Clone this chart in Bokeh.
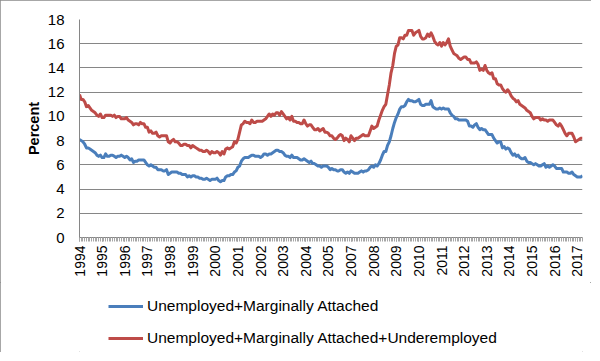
import math
from bokeh.plotting import figure
from bokeh.layouts import column
from bokeh.models import Range1d, FixedTicker, Legend, LegendItem
from bokeh.embed import file_html
from bokeh.resources import INLINE

# Monthly values, Jan 1994 .. Feb 2018 (one row per year)
u5 = [
    8.1, 8.0, 7.9, 7.7, 7.4, 7.4, 7.3, 7.2, 7.1, 7.0, 6.8, 6.7,   # 1994
    6.8, 6.6, 6.6, 6.9, 6.7, 6.7, 6.8, 6.8, 6.7, 6.6, 6.7, 6.7,   # 1995
    6.8, 6.7, 6.6, 6.7, 6.6, 6.4, 6.5, 6.2, 6.3, 6.3, 6.4, 6.4,   # 1996
    6.4, 6.4, 6.2, 6.0, 5.9, 6.0, 5.9, 5.8, 5.8, 5.6, 5.6, 5.6,   # 1997
    5.5, 5.5, 5.6, 5.2, 5.3, 5.4, 5.4, 5.4, 5.4, 5.3, 5.3, 5.2,   # 1998
    5.2, 5.2, 5.0, 5.1, 5.0, 5.1, 5.1, 5.0, 5.0, 4.9, 4.9, 4.8,   # 1999
    4.8, 4.9, 4.8, 4.7, 4.8, 4.8, 4.8, 4.9, 4.7, 4.6, 4.7, 4.7,   # 2000
    5.0, 5.1, 5.1, 5.2, 5.2, 5.4, 5.5, 5.8, 5.9, 6.3, 6.5, 6.6,   # 2001
    6.6, 6.6, 6.7, 6.8, 6.8, 6.7, 6.7, 6.7, 6.6, 6.7, 6.9, 6.9,   # 2002
    6.8, 6.9, 6.9, 7.0, 7.1, 7.2, 7.2, 7.1, 7.1, 7.0, 6.8, 6.7,   # 2003
    6.7, 6.6, 6.8, 6.6, 6.6, 6.6, 6.5, 6.4, 6.4, 6.5, 6.4, 6.3,   # 2004
    6.2, 6.3, 6.1, 6.1, 6.0, 5.9, 5.9, 5.8, 5.9, 5.9, 5.9, 5.8,   # 2005
    5.6, 5.7, 5.6, 5.6, 5.5, 5.5, 5.6, 5.6, 5.4, 5.3, 5.4, 5.3,   # 2006
    5.5, 5.4, 5.3, 5.3, 5.3, 5.4, 5.5, 5.4, 5.5, 5.5, 5.6, 5.8,   # 2007
    5.9, 5.8, 6.0, 5.9, 6.1, 6.4, 6.8, 7.1, 7.1, 7.6, 7.9, 8.4,   # 2008
    9.0, 9.5, 9.9, 10.2, 10.6, 10.8, 10.8, 10.9, 11.2, 11.4, 11.3, 11.3,  # 2009
    11.2, 11.2, 11.3, 11.4, 11.0, 10.9, 10.9, 11.0, 11.0, 11.0, 11.3, 10.8,  # 2010
    10.7, 10.6, 10.6, 10.7, 10.6, 10.7, 10.6, 10.6, 10.6, 10.3, 10.1, 10.0,  # 2011
    9.8, 9.8, 9.7, 9.7, 9.7, 9.7, 9.7, 9.6, 9.2, 9.2, 9.1, 9.3,   # 2012
    9.4, 9.1, 8.9, 9.0, 8.9, 8.9, 8.7, 8.5, 8.5, 8.5, 8.2, 8.0,   # 2013
    7.8, 7.9, 7.9, 7.4, 7.5, 7.3, 7.4, 7.3, 7.0, 6.8, 6.9, 6.7,   # 2014
    6.8, 6.6, 6.5, 6.5, 6.6, 6.3, 6.2, 6.2, 6.1, 6.0, 6.1, 6.0,   # 2015
    5.9, 5.9, 6.0, 6.1, 5.8, 5.9, 5.8, 5.9, 6.0, 5.9, 5.7, 5.7,   # 2016
    5.7, 5.7, 5.4, 5.4, 5.4, 5.3, 5.3, 5.4, 5.2, 5.1, 5.0, 5.0,   # 2017
    5.0, 5.1,                                                     # 2018
]

u6 = [
    11.8, 11.4, 11.4, 11.2, 10.8, 10.9, 10.7, 10.5, 10.4, 10.3, 10.1, 10.0,  # 1994
    10.2, 9.9, 9.9, 10.1, 10.1, 10.1, 10.1, 10.0, 10.1, 9.9, 10.0, 10.0,    # 1995
    9.8, 9.8, 9.8, 9.9, 9.7, 9.6, 9.5, 9.3, 9.4, 9.4, 9.3, 9.5,             # 1996
    9.4, 9.4, 9.1, 9.1, 8.7, 8.8, 8.6, 8.6, 8.7, 8.4, 8.3, 8.4,             # 1997
    8.4, 8.4, 8.4, 7.9, 7.8, 8.0, 8.1, 7.9, 7.9, 7.8, 7.6, 7.6,             # 1998
    7.7, 7.7, 7.6, 7.6, 7.4, 7.6, 7.5, 7.4, 7.3, 7.2, 7.2, 7.1,             # 1999
    7.1, 7.2, 7.1, 6.9, 7.1, 7.0, 7.0, 7.1, 7.0, 6.8, 7.1, 6.9,             # 2000
    7.3, 7.4, 7.3, 7.4, 7.5, 7.9, 7.8, 8.1, 8.7, 9.3, 9.4, 9.6,             # 2001
    9.5, 9.5, 9.4, 9.7, 9.5, 9.5, 9.6, 9.6, 9.6, 9.6, 9.7, 9.8,             # 2002
    10.0, 10.2, 10.0, 10.2, 10.1, 10.3, 10.3, 10.1, 10.4, 10.2, 10.0, 9.8,  # 2003
    9.9, 9.7, 10.0, 9.6, 9.6, 9.5, 9.5, 9.4, 9.4, 9.7, 9.4, 9.2,            # 2004
    9.3, 9.3, 9.1, 8.9, 8.9, 9.0, 8.8, 8.9, 9.0, 8.7, 8.7, 8.6,             # 2005
    8.4, 8.4, 8.2, 8.1, 8.2, 8.4, 8.5, 8.4, 8.0, 8.2, 8.1, 7.9,             # 2006
    8.4, 8.2, 8.0, 8.2, 8.2, 8.3, 8.4, 8.5, 8.4, 8.4, 8.4, 8.8,             # 2007
    9.2, 9.0, 9.1, 9.2, 9.7, 10.1, 10.5, 10.8, 11.0, 11.8, 12.6, 13.6,      # 2008
    14.2, 15.2, 15.8, 15.9, 16.5, 16.5, 16.4, 16.7, 16.7, 17.1, 17.1, 17.1, # 2009
    16.7, 16.9, 17.0, 17.1, 16.6, 16.4, 16.4, 16.5, 16.8, 16.6, 16.9, 16.6, # 2010
    16.2, 16.0, 15.9, 16.1, 15.8, 16.1, 15.9, 16.1, 16.4, 15.8, 15.5, 15.2, # 2011
    15.1, 15.0, 14.8, 14.7, 14.8, 14.9, 14.9, 14.7, 14.7, 14.4, 14.4, 14.4, # 2012
    14.5, 14.3, 13.8, 13.9, 13.8, 14.2, 13.8, 13.6, 13.5, 13.6, 13.1, 13.1, # 2013
    12.7, 12.6, 12.6, 12.3, 12.1, 12.0, 12.2, 12.0, 11.7, 11.5, 11.4, 11.2, # 2014
    11.3, 11.0, 10.9, 10.8, 10.7, 10.5, 10.4, 10.3, 10.0, 9.8, 9.9, 9.9,    # 2015
    9.9, 9.7, 9.8, 9.7, 9.7, 9.6, 9.7, 9.7, 9.7, 9.5, 9.3, 9.2,             # 2016
    9.4, 9.2, 8.9, 8.6, 8.4, 8.6, 8.6, 8.6, 8.3, 7.9, 8.0, 8.1,             # 2017
    8.2, 8.2,                                                              # 2018
]

# Category-axis labels (one label every 13 categories, as in the source chart)
tick_labels = ["1994", "1995", "1996", "1997", "1998", "1999", "2000", "2001",
               "2002", "2003", "2004", "2005", "2007", "2008", "2009", "2010",
               "2011", "2012", "2013", "2014", "2015", "2016", "2017"]
label_step = 13
y_ticks = [0, 2, 4, 6, 8, 10, 12, 14, 16, 18]

series_names = ["Unemployed+Marginally Attached",
                "Unemployed+Marginally Attached+Underemployed"]
series_colors = ["#4A7EBB", "#BE4B48"]

n = len(u6)
xs = list(range(n))
tick_pos = [i * label_step for i in range(len(tick_labels))]

FONT = "Liberation Sans"
GRID = "#868686"
W = 591

p = figure(width=W, height=282, output_backend="svg", toolbar_location=None,
           x_range=Range1d(0, n - 1), y_range=Range1d(0, 18),
           min_border_left=79, min_border_right=9, min_border_top=19,
           min_border_bottom=45, background_fill_color="white",
           border_fill_color="white")
p.outline_line_color = None

p.line(xs, u5, line_color=series_colors[0], line_width=3, line_join="round")
p.line(xs, u6, line_color=series_colors[1], line_width=3, line_join="round")

# x axis
xa = p.xaxis[0]
xa.ticker = FixedTicker(ticks=tick_pos, minor_ticks=xs)
xa.major_label_overrides = {pos: lab for pos, lab in zip(tick_pos, tick_labels)}
xa.major_label_orientation = math.pi / 2
xa.major_label_text_font = FONT
xa.major_label_text_font_size = "14px"
xa.major_label_text_color = "black"
xa.major_label_standoff = 4
xa.axis_line_color = GRID
xa.major_tick_line_color = GRID
xa.minor_tick_line_color = "#a6a6a6"
xa.major_tick_in = 0
xa.major_tick_out = 4
xa.minor_tick_in = 0
xa.minor_tick_out = 4

# y axis
ya = p.yaxis[0]
ya.ticker = FixedTicker(ticks=y_ticks)
ya.major_label_text_font = FONT
ya.major_label_text_font_size = "15px"
ya.major_label_text_color = "black"
ya.major_label_standoff = 15
ya.major_tick_in = 0
ya.major_tick_out = 0
ya.minor_tick_line_color = None
ya.axis_line_color = GRID
ya.axis_label = "Percent"
ya.axis_label_text_font = FONT
ya.axis_label_text_font_size = "14.5px"
ya.axis_label_text_font_style = "bold"
ya.axis_label_text_color = "black"
ya.axis_label_standoff = 3

p.xgrid.visible = False
p.ygrid.grid_line_color = GRID
p.ygrid.grid_line_width = 1

# Legend strip below the chart (separate figure so the legend is not clipped).
# Its lines carry the same series, but lie outside this strip's y range.
q = figure(width=W, height=70, output_backend="svg", toolbar_location=None,
           x_axis_type=None, y_axis_type=None, min_border=0,
           x_range=Range1d(0, n - 1), y_range=Range1d(100, 101),
           background_fill_color="white", border_fill_color="white")
q.outline_line_color = None
q.xgrid.visible = False
q.ygrid.visible = False
k1 = q.line(xs, u5, line_color=series_colors[0], line_width=3)
k2 = q.line(xs, u6, line_color=series_colors[1], line_width=3)

legend = Legend(items=[LegendItem(label=series_names[0], renderers=[k1]),
                       LegendItem(label=series_names[1], renderers=[k2])],
                location=(29, 4))
legend.label_text_font = FONT
legend.label_text_font_size = "15.5px"
legend.label_text_color = "black"
legend.glyph_width = 35
legend.glyph_height = 20
legend.label_height = 20
legend.label_standoff = 4
legend.spacing = 12
legend.padding = 0
legend.margin = 0
legend.border_line_color = None
legend.background_fill_alpha = 0
q.add_layout(legend, "center")

lay = column(p, q, spacing=0)
lay.styles = {"outline": "1px solid #8a8a8a", "outline-offset": "-1px"}

open("out.html", "w").write(file_html(lay, INLINE))
